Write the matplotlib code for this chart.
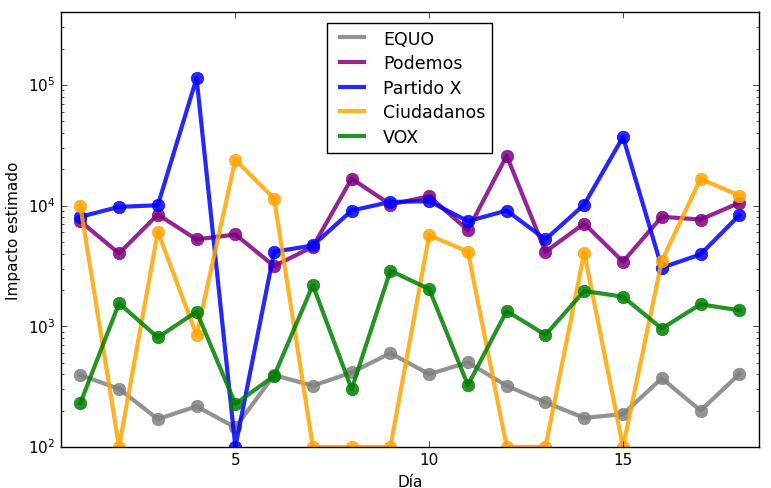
import matplotlib
matplotlib.use('Agg')
import matplotlib.pyplot as plt
import numpy as np

# Dias
dias = list(range(1, 19))

# Impacto estimado por partido
equo = [394, 303, 170, 217, 145, 394, 321, 414, 598, 401, 501, 321, 234, 174, 187, 370, 200, 401]
podemos = [7420, 4010, 8430, 5236, 5760, 3150, 4560, 16710, 10190, 11940, 6250, 25900, 4143, 7100, 3425, 8070, 7660, 10520]
partido_x = [8070, 9750, 10060, 113600, 100, 4143, 4670, 9090, 10720, 10860, 7420, 9090, 5236, 10190, 36980, 3055, 3936, 8310]
ciudadanos = [10000, 100, 6063, 848, 23900, 11430, 100, 100, 100, 5685, 4143, 100, 100, 4065, 100, 3467, 16630, 12100]
vox = [230, 1550, 807, 1322, 227, 388, 2194, 301, 2886, 2033, 325, 1337, 848, 1958, 1758, 957, 1520, 1356]

nombres = ['EQUO', 'Podemos', 'Partido X', 'Ciudadanos', 'VOX']
colores = ['gray', 'purple', 'blue', 'orange', 'green']

plt.style.use('classic')
fig = plt.figure(figsize=(7.71, 4.89), dpi=100, facecolor='white')
ax = fig.add_axes([0.079, 0.084, 0.905, 0.889])

for serie, nombre, color in zip([equo, podemos, partido_x, ciudadanos, vox], nombres, colores):
    ax.plot(dias, serie, '-o', color=color, label=nombre, lw=3, ms=9,
            mec=color, alpha=0.85)

ax.set_yscale('log')
ax.set_xlim(0.5, 18.5)
ax.set_ylim(100, 4e5)
ax.set_xticks([5, 10, 15])
ax.set_xlabel(u'Día', fontsize=11)
ax.set_ylabel('Impacto estimado', fontsize=11)
ax.tick_params(labelsize=11)
leg = ax.legend(loc='upper center', fontsize=12.5, handlelength=2.0,
                labelspacing=0.38, borderaxespad=0.6)
# solo la linea en la leyenda
for h in leg.legend_handles:
    h.set_marker('')

fig.savefig('out.png', dpi=100, facecolor='white')
